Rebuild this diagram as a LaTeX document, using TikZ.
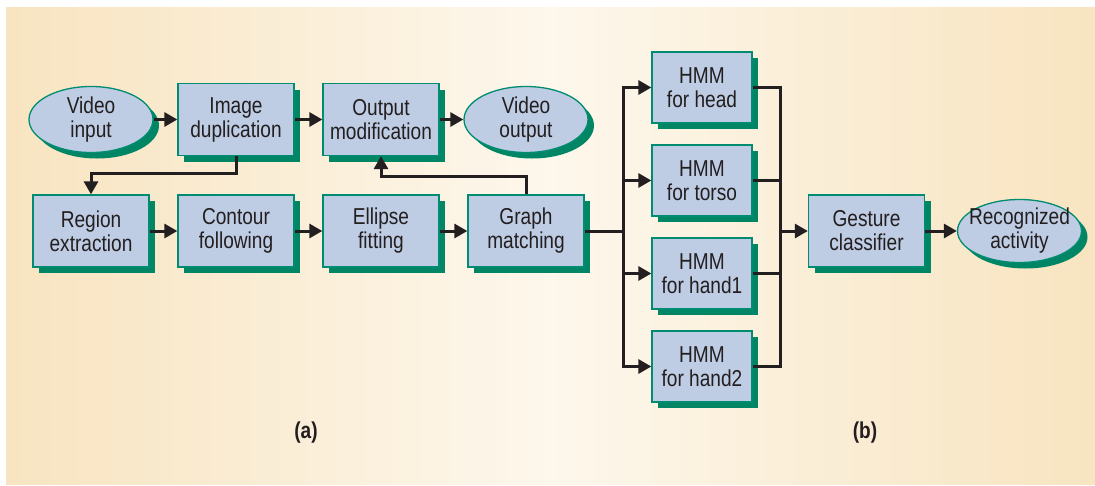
\documentclass[tikz,border=0pt]{standalone}
\usepackage{fontspec}
\setmainfont{Liberation Sans}[FakeStretch=0.83]
\usetikzlibrary{positioning,shapes.geometric,shadows,arrows.meta}

\definecolor{boxfill}{RGB}{190,204,228}
\definecolor{boxline}{RGB}{0,140,112}
\definecolor{shgreen}{RGB}{0,134,100}
\definecolor{bgtan}{RGB}{248,228,192}
\definecolor{bgcream}{RGB}{253,247,236}
\definecolor{ink}{RGB}{35,31,32}

\begin{document}
\begin{tikzpicture}
		[x=1pt,y=-1pt,node distance=145pt,on grid,
		 box/.style={rectangle,draw=boxline,line width=1.3pt,fill=boxfill,inner sep=0pt,
		   align=center,text=ink,font=\fontsize{23}{24}\selectfont},
		 block/.style={box,minimum width=116pt,minimum height=72pt,
		   drop shadow={shadow xshift=6pt,shadow yshift=-6pt,fill=shgreen,opacity=1}},
		 hmm/.style={block,minimum width=100pt,minimum height=71pt},
		 io/.style={box,ellipse,inner sep=-10pt,minimum width=124pt,minimum height=66pt,
		   drop shadow={shadow xshift=6pt,shadow yshift=-6pt,fill=shgreen,opacity=1}},
		 wire/.style={line width=3pt,draw=ink},
		 arr/.style={wire,-{Triangle[length=13pt,width=14pt]}},
		 tag/.style={text=ink,font=\bfseries\fontsize{23}{24}\selectfont}]
		% panel
		\useasboundingbox (0,0) rectangle (1095,485);
		\shade[left color=bgtan,right color=bgtan,middle color=bgcream] (6,7) rectangle (1095,484);
		% (a) tracking chain
		\node[io] (vin) at (91,119.5) {Video\\input};
		\node[block] (imgdup) [right=of vin] {Image\\duplication};
		\node[block] (outmod) [right=of imgdup] {Output\\modification};
		\node[io] (vout) [right=of outmod] {Video\\output};
		\node[block] (regext) [below=111.5pt of vin] {Region\\extraction};
		\node[block] (contour) [right=of regext] {Contour\\following};
		\node[block] (ellfit) [right=of contour] {Ellipse\\fitting};
		\node[block] (graph) [right=of ellfit] {Graph\\matching};
		% (b) recognition
		\node[hmm] (hhead) at (702,87.5) {HMM\\for head};
		\node[hmm] (htorso) [below=93pt of hhead] {HMM\\for torso};
		\node[hmm] (hhand1) [below=93pt of htorso] {HMM\\for hand1};
		\node[hmm] (hhand2) [below=93pt of hhand1] {HMM\\for hand2};
		\node[block] (gesture) [right=340.5pt of graph] {Gesture\\classifier};
		\node[io,minimum height=63pt] (recog) [right=153pt of gesture] {Recognized\\activity};
		\coordinate[right=97pt of graph] (split);
		\coordinate[left=86.5pt of gesture] (merge);
		\node[tag] (taga) at (306,433) {(a)};
		\node[tag] (tagb) at (865,433) {(b)};
		
		\draw[arr] (vin) -- (imgdup);
		\draw[arr] (imgdup) -- (outmod);
		\draw[arr] (outmod) -- (vout);
		\draw[arr] (regext) -- (contour);
		\draw[arr] (contour) -- (ellfit);
		\draw[arr] (ellfit) -- (graph);
		\draw[arr] (imgdup.south) -- ++(0,17) -| (regext.north);
		\draw[arr] (graph.north) -- ++(0,-18) -| (outmod.south);
		\draw[wire] (graph) -- (split);
		\foreach \h in {hhead,htorso,hhand1,hhand2} {
			\draw[arr] (split) |- (\h.west);
			\draw[wire] (\h.east) -| (merge);
		}
		\draw[arr] (merge) -- (gesture);
		\draw[arr] (gesture) -- (recog);
		\end{tikzpicture}
\end{document}
